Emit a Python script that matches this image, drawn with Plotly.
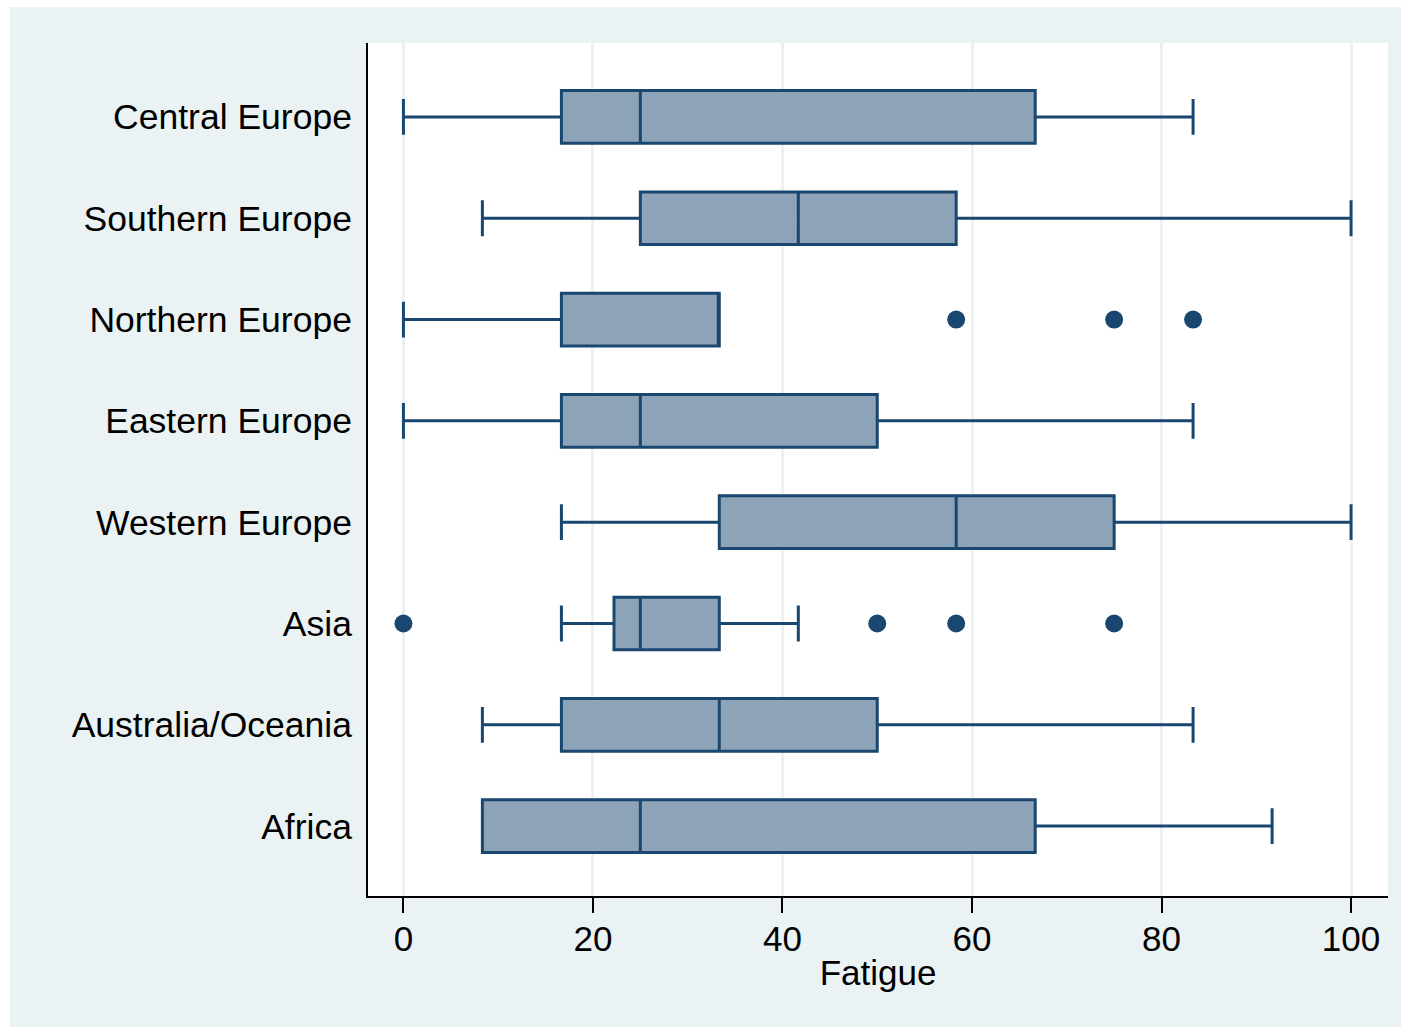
import plotly.graph_objects as go

categories = ["Central Europe", "Southern Europe", "Northern Europe", "Eastern Europe",
              "Western Europe", "Asia", "Australia/Oceania", "Africa"]
lower_whisker = [0, 8.33, 0, 0, 16.67, 16.67, 8.33, 8.33]
q1_vals = [16.67, 25, 16.67, 16.67, 33.33, 22.22, 16.67, 8.33]
median_vals = [25, 41.67, 33.33, 25, 58.33, 25, 33.33, 25]
q3_vals = [66.67, 58.33, 33.33, 50, 75, 33.33, 50, 66.67]
upper_whisker = [83.33, 100, 33.33, 83.33, 100, 41.67, 83.33, 91.67]

outlier_cat = ["Northern Europe", "Northern Europe", "Northern Europe",
               "Asia", "Asia", "Asia", "Asia"]
outlier_x = [58.33, 75, 83.33, 0, 50, 58.33, 75]

x_ticks = [0, 20, 40, 60, 80, 100]

NAVY = "#1A476F"
FILL = "#8DA3B8"
BG = "#EAF2F3"
FONT = "Liberation Sans, Arial, sans-serif"

fig = go.Figure()
fig.add_trace(go.Box(
    y=categories, orientation="h",
    q1=q1_vals, median=median_vals, q3=q3_vals,
    lowerfence=lower_whisker, upperfence=upper_whisker,
    boxpoints=False, width=0.52, whiskerwidth=0.68,
    fillcolor=FILL, line=dict(color=NAVY, width=3),
    showlegend=False, hoverinfo="skip",
))
fig.add_trace(go.Scatter(
    x=outlier_x, y=outlier_cat, mode="markers",
    marker=dict(color=NAVY, size=18, line=dict(width=0)),
    showlegend=False, hoverinfo="skip",
))

W, H = 1402, 1029
L, R, T, B = 368, 14, 43, 133
pw = W - L - R
ph = H - T - B

def px_x(p):
    return (p - L) / pw

def px_y(p):
    return (H - B - p) / ph

fig.update_layout(
    width=W, height=H,
    margin=dict(l=L, r=R, t=T, b=B, pad=0),
    paper_bgcolor="white", plot_bgcolor="white",
    font=dict(family=FONT, size=35, color="black"),
    shapes=[
        dict(type="rect", xref="paper", yref="paper", layer="below",
             x0=px_x(10), x1=px_x(1401), y0=px_y(1027), y1=px_y(7),
             fillcolor=BG, line=dict(width=0)),
        dict(type="rect", xref="paper", yref="paper", layer="below",
             x0=0, x1=1, y0=0, y1=1, fillcolor="white", line=dict(width=0)),
    ],
    xaxis=dict(
        range=[-3.74, 103.9], tickvals=x_ticks, ticktext=[str(v) for v in x_ticks],
        showgrid=True, gridcolor=BG, gridwidth=3, zeroline=False,
        showline=True, linecolor="black", linewidth=2,
        ticks="outside", ticklen=15, tickwidth=2, tickcolor="black",
        ticklabelstandoff=-4,
        tickfont=dict(size=35, family=FONT, color="black"),
        title=dict(text="Fatigue", font=dict(size=35, family=FONT, color="black"), standoff=3),
    ),
    yaxis=dict(
        type="category", categoryorder="array", categoryarray=categories,
        range=[7.69, -0.73],
        showgrid=False, zeroline=False,
        showline=True, linecolor="black", linewidth=2,
        ticks="", ticklabelstandoff=7,
        tickfont=dict(size=35.5, family=FONT, color="black"),
    ),
)

fig.write_html(
    "out.html",
    config={"displayModeBar": False},
    post_script="document.body.style.margin='0';document.body.style.overflow='hidden';",
)
